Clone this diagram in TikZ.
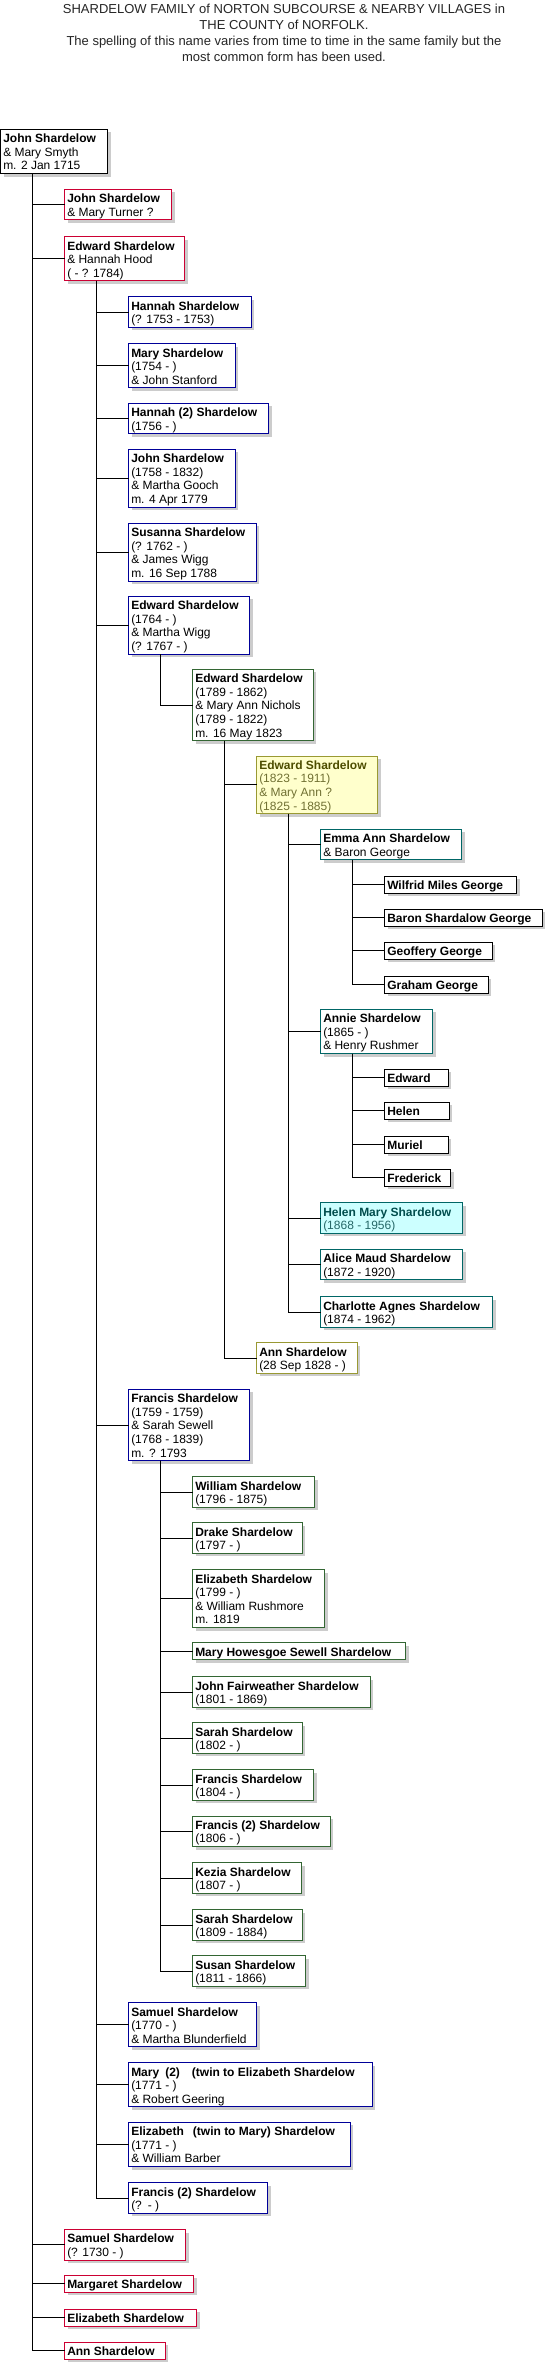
\documentclass[tikz,border=0pt]{standalone}
\usepackage{fontspec}
\setmainfont{Liberation Sans}
\usetikzlibrary{shadows}
\definecolor{cred}{RGB}{204,0,51}
\definecolor{cblue}{RGB}{0,0,153}
\definecolor{cgreen}{RGB}{51,102,51}
\definecolor{cteal}{RGB}{0,102,102}
\definecolor{colive}{RGB}{153,153,51}
\definecolor{cyellow}{RGB}{255,255,204}
\definecolor{ccyan}{RGB}{204,255,255}
\definecolor{cshadow}{RGB}{204,204,204}
\definecolor{oltext}{RGB}{77,77,0}
\definecolor{tltext}{RGB}{0,77,77}
\newcommand\pers[7]{%
  \node[pbox,#6,minimum width={(#4-#2)*1pt},minimum height={(13.6*#5+3.4)*1pt},anchor=north west] (#1) at (#2,#3) {};
  \node[ptext,anchor=north west] (#1t) at ([xshift=2.5pt]#1.north west) {\rule{0pt}{13.3pt}#7};}
\tikzset{
  pbox/.style={draw=black,fill=white,line width=1pt,inner sep=0pt,outer sep=0pt,
    drop shadow={shadow xshift=3pt,shadow yshift=-3pt,fill=cshadow,opacity=1}},
  ptext/.style={inner sep=0pt,outer sep=0pt,align=left,font=\fontsize{12pt}{13.6pt}\selectfont,text=black},
  gen0/.style={draw=black},
  gen1/.style={draw=cred},
  gen2/.style={draw=cblue},
  gen3/.style={draw=cgreen},
  gen4/.style={draw=colive},
  gen4y/.style={draw=colive,fill=cyellow},
  gen5/.style={draw=cteal},
  gen5c/.style={draw=cteal,fill=ccyan},
  conn/.style={draw=black,line width=1pt},
  ttl/.style={inner sep=0pt,anchor=base,font=\fontsize{13pt}{15.5pt}\selectfont,text=black!85}
}
\begin{document}
\begin{tikzpicture}[x=1pt,y=-1pt]
\useasboundingbox[fill=white] (0,0) rectangle (549,2366);
\node[ttl] (t1) at (284,14) {SHARDELOW FAMILY of NORTON SUBCOURSE \& NEARBY VILLAGES in};
\node[ttl] (t2) at (284,29.5) {THE COUNTY of NORFOLK.};
\node[ttl] (t3) at (284,46) {The spelling of this name varies from time to time in the same family but the};
\node[ttl] (t4) at (284,61.5) {most common form has been used.};

\pers{root}{0.75}{129.3}{107.8}{3}{gen0}{\textbf{John Shardelow}\\ \& Mary Smyth\\ m. 2 Jan 1715}
\pers{jtwo}{64.75}{189.3}{171.5}{2}{gen1}{\textbf{John Shardelow}\\ \& Mary Turner ?}
\pers{eh}{64.75}{236.7}{184.8}{3}{gen1}{\textbf{Edward Shardelow}\\ \& Hannah Hood\\ ( - ? 1784)}
\pers{hone}{128.75}{296.7}{251.3}{2}{gen2}{\textbf{Hannah Shardelow}\\ (? 1753 - 1753)}
\pers{mone}{128.75}{343.7}{235.2}{3}{gen2}{\textbf{Mary Shardelow}\\ (1754 - )\\ \& John Stanford}
\pers{htwo}{128.75}{403.3}{268.5}{2}{gen2}{\textbf{Hannah (2) Shardelow}\\ (1756 - )}
\pers{jn}{128.75}{449.3}{235.2}{4}{gen2}{\textbf{John Shardelow}\\ (1758 - 1832)\\ \& Martha Gooch\\ m. 4 Apr 1779}
\pers{su}{128.75}{523.3}{256.2}{4}{gen2}{\textbf{Susanna Shardelow}\\ (? 1762 - )\\ \& James Wigg\\ m. 16 Sep 1788}
\pers{esf}{128.75}{596.3}{249.6}{4}{gen2}{\textbf{Edward Shardelow}\\ (1764 - )\\ \& Martha Wigg\\ (? 1767 - )}
\pers{een}{192.75}{669.3}{313.3}{5}{gen3}{\textbf{Edward Shardelow}\\ (1789 - 1862)\\ \& Mary Ann Nichols\\ (1789 - 1822)\\ m. 16 May 1823}
\pers{etw}{256.75}{756}{377.7}{4}{gen4y}{\color{oltext}\textbf{Edward Shardelow}\\ \color{oltext!80}(1823 - 1911)\\ \color{oltext!80}\& Mary Ann ?\\ \color{oltext!80}(1825 - 1885)}
\pers{emma}{320.75}{829.3}{461.7}{2}{gen5}{\textbf{Emma Ann Shardelow}\\ \& Baron George}
\pers{wil}{384.75}{876}{516.7}{1}{gen0}{\textbf{Wilfrid Miles George}}
\pers{bar}{384.75}{909}{542.3}{1}{gen0}{\textbf{Baron Shardalow George}}
\pers{geo}{384.75}{942.3}{492.3}{1}{gen0}{\textbf{Geoffery George}}
\pers{gra}{384.75}{976}{488.3}{1}{gen0}{\textbf{Graham George}}
\pers{annie}{320.75}{1009.3}{432.7}{3}{gen5}{\textbf{Annie Shardelow}\\ (1865 - )\\ \& Henry Rushmer}
\pers{edw}{384.75}{1069.3}{448.3}{1}{gen0}{\textbf{Edward}}
\pers{hel}{384.75}{1102.3}{449}{1}{gen0}{\textbf{Helen}}
\pers{mur}{384.75}{1136.3}{448.3}{1}{gen0}{\textbf{Muriel}}
\pers{fre}{384.75}{1169.3}{450.7}{1}{gen0}{\textbf{Frederick}}
\pers{hm}{320.75}{1202.7}{462.7}{2}{gen5c}{\color{tltext}\textbf{Helen Mary Shardelow}\\ \color{tltext!85}(1868 - 1956)}
\pers{al}{320.75}{1249.3}{462.7}{2}{gen5}{\textbf{Alice Maud Shardelow}\\ (1872 - 1920)}
\pers{chl}{320.75}{1296.7}{492.5}{2}{gen5}{\textbf{Charlotte Agnes Shardelow}\\ (1874 - 1962)}
\pers{ann}{256.75}{1342.7}{357}{2}{gen4}{\textbf{Ann Shardelow}\\ (28 Sep 1828 - )}
\pers{fr}{128.75}{1389.3}{249.6}{5}{gen2}{\textbf{Francis Shardelow}\\ (1759 - 1759)\\ \& Sarah Sewell\\ (1768 - 1839)\\ m. ? 1793}
\pers{wi}{192.75}{1476.7}{314.7}{2}{gen3}{\textbf{William Shardelow}\\ (1796 - 1875)}
\pers{dr}{192.75}{1522.7}{302.4}{2}{gen3}{\textbf{Drake Shardelow}\\ (1797 - )}
\pers{el}{192.75}{1569.7}{324.5}{4}{gen3}{\textbf{Elizabeth Shardelow}\\ (1799 - )\\ \& William Rushmore\\ m. 1819}
\pers{mh}{192.75}{1642.7}{405.7}{1}{gen3}{\textbf{Mary Howesgoe Sewell Shardelow}}
\pers{jf}{192.75}{1676.7}{370.3}{2}{gen3}{\textbf{John Fairweather Shardelow}\\ (1801 - 1869)}
\pers{sa}{192.75}{1722.7}{302.4}{2}{gen3}{\textbf{Sarah Shardelow}\\ (1802 - )}
\pers{ff}{192.75}{1769.7}{313.6}{2}{gen3}{\textbf{Francis Shardelow}\\ (1804 - )}
\pers{fs}{192.75}{1816}{330.4}{2}{gen3}{\textbf{Francis (2) Shardelow}\\ (1806 - )}
\pers{ke}{192.75}{1862.7}{301.7}{2}{gen3}{\textbf{Kezia Shardelow}\\ (1807 - )}
\pers{sn}{192.75}{1909.7}{302}{2}{gen3}{\textbf{Sarah Shardelow}\\ (1809 - 1884)}
\pers{sus}{192.75}{1955.7}{305.6}{2}{gen3}{\textbf{Susan Shardelow}\\ (1811 - 1866)}
\pers{sam}{128.75}{2002.7}{256.6}{3}{gen2}{\textbf{Samuel Shardelow}\\ (1770 - )\\ \& Martha Blunderfield}
\pers{mt}{128.75}{2062.7}{372.4}{3}{gen2}{\textbf{Mary\hspace{6pt}(2)\hspace{12pt}(twin to Elizabeth Shardelow}\\ (1771 - )\\ \& Robert Geering}
\pers{et}{128.75}{2122.3}{350.4}{3}{gen2}{\textbf{Elizabeth\hspace{9pt}(twin to Mary) Shardelow}\\ (1771 - )\\ \& William Barber}
\pers{ft}{128.75}{2182.7}{267.8}{2}{gen2}{\textbf{Francis (2) Shardelow}\\ (?\hspace{6pt}- )}
\pers{sm}{64.75}{2229.5}{185.5}{2}{gen1}{\textbf{Samuel Shardelow}\\ (? 1730 - )}
\pers{mg}{64.75}{2275.3}{193.6}{1}{gen1}{\textbf{Margaret Shardelow}}
\pers{eli}{64.75}{2309.3}{196.7}{1}{gen1}{\textbf{Elizabeth Shardelow}}
\pers{an}{64.75}{2342.3}{165.2}{1}{gen1}{\textbf{Ann Shardelow}}

% connectors
\foreach \c in {jtwo,eh,sm,mg,eli,an}
  \draw[conn] ([xshift=31.75pt]root.south west) |- (\c.west);
\foreach \c in {hone,mone,htwo,jn,su,esf,fr,sam,mt,et,ft}
  \draw[conn] ([xshift=31.75pt]eh.south west) |- (\c.west);
\draw[conn] ([xshift=31.75pt]esf.south west) |- (een.west);
\foreach \c in {etw,ann}
  \draw[conn] ([xshift=31.75pt]een.south west) |- (\c.west);
\foreach \c in {emma,annie,hm,al,chl}
  \draw[conn] ([xshift=31.75pt]etw.south west) |- (\c.west);
\foreach \c in {wil,bar,geo,gra}
  \draw[conn] ([xshift=31.75pt]emma.south west) |- (\c.west);
\foreach \c in {edw,hel,mur,fre}
  \draw[conn] ([xshift=31.75pt]annie.south west) |- (\c.west);
\foreach \c in {wi,dr,el,mh,jf,sa,ff,fs,ke,sn,sus}
  \draw[conn] ([xshift=31.75pt]fr.south west) |- (\c.west);
\end{tikzpicture}
\end{document}
